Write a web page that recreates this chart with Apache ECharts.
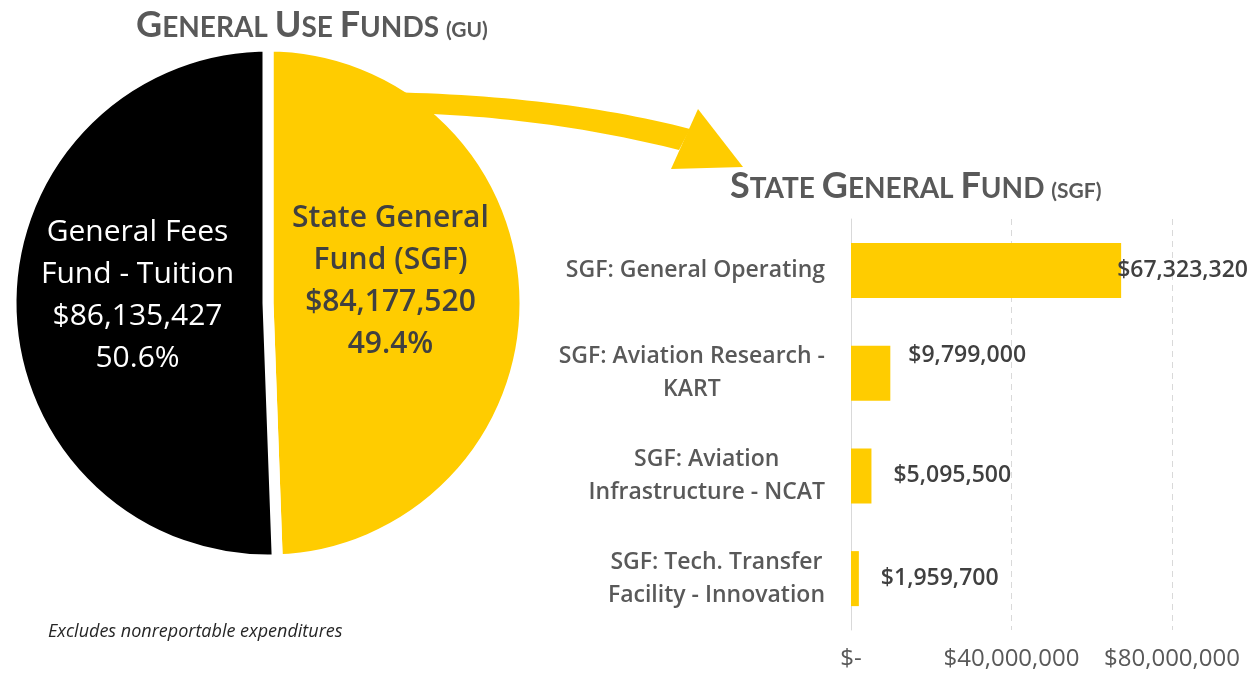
<!DOCTYPE html>
<html>
<head>
<meta charset="utf-8">
<script src="https://cdn.jsdelivr.net/npm/echarts@6/dist/echarts.min.js"></script>
<style>
  html, body { margin: 0; padding: 0; background: #fff; }
  #chart { width: 1258px; height: 677px; }
</style>
</head>
<body>
<div id="chart"></div>
<script>
// general use funds split
const guNames = ['State General\nFund (SGF)', 'General Fees\nFund - Tuition'];
const guValues = [84177520, 86135427];

// state general fund breakdown
const sgfCategories = [
  'SGF: General Operating',
  'SGF: Aviation Research -\nKART',
  'SGF: Aviation\nInfrastructure - NCAT',
  'SGF: Tech. Transfer\nFacility - Innovation'
];
const sgfValues = [67323320, 9799000, 5095500, 1959700];

const xTicks = [0, 40000000, 80000000];

const titleFont = 'Lato, "Open Sans", sans-serif';
const font = '"Open Sans", sans-serif';
const yellow = '#FFCC00';
const money = v => '$' + v.toLocaleString('en-US');

const chart = echarts.init(document.getElementById('chart'), null, { renderer: 'canvas' });

// small caps headers, done with rich text
const capsRich = (big, small, tiny) => ({
  a: { fontSize: big, fontWeight: 'bold', color: '#595959', fontFamily: titleFont, lineHeight: 44, verticalAlign: 'bottom' },
  b: { fontSize: small, fontWeight: 'bold', color: '#595959', fontFamily: titleFont, lineHeight: 44, verticalAlign: 'bottom', padding: [0, 0, 1, 0] },
  c: { fontSize: tiny, fontWeight: 'bold', color: '#595959', fontFamily: titleFont, lineHeight: 44, verticalAlign: 'bottom', padding: [0, 0, 2, 0] }
});

// quadratic curve sampled into points, for the arrow body
function quad(p0, c, p1, n) {
  const pts = [];
  for (let i = 0; i <= n; i++) {
    const t = i / n, u = 1 - t;
    pts.push([u * u * p0[0] + 2 * u * t * c[0] + t * t * p1[0], u * u * p0[1] + 2 * u * t * c[1] + t * t * p1[1]]);
  }
  return pts;
}
const arrowBody = [[380, 114]]
  .concat(quad([380, 92], [560, 95], [690, 129], 30))
  .concat(quad([679, 150], [560, 120], [433, 114], 30));

// label nudges so text sits where the original has it
const barLabelOffsets = [[-26, 0], [-4, -18], [0, 0], [0, 0]];

chart.setOption({
  animation: false,
  title: [
    {
      left: 131, top: -6,
      text: '{a|G}{b|ENERAL }{a|U}{b|SE }{a|F}{b|UNDS }{c|(GU)}',
      textStyle: { rich: capsRich(36, 28, 21) }
    },
    {
      left: 725, top: 155,
      text: '{a|S}{b|TATE }{a|G}{b|ENERAL }{a|F}{b|UND }{c|(SGF)}',
      textStyle: { rich: capsRich(36, 28, 21) }
    },
    {
      left: 43, top: 618,
      text: 'Excludes nonreportable expenditures',
      textStyle: { fontSize: 18, fontStyle: 'italic', fontWeight: 'normal', color: '#262626', fontFamily: font }
    }
  ],
  grid: { left: 851, top: 219, width: 321, height: 411 },
  xAxis: {
    type: 'value',
    min: xTicks[0],
    max: xTicks[xTicks.length - 1],
    interval: xTicks[1] - xTicks[0],
    axisLine: { show: false },
    axisTick: { show: false },
    splitLine: { lineStyle: { type: [6, 5], color: '#d9d9d9', width: 1 } },
    axisLabel: {
      margin: 17,
      fontSize: 24,
      color: '#595959',
      fontFamily: font,
      formatter: v => v === 0 ? '$-' : money(v)
    }
  },
  yAxis: {
    type: 'category',
    inverse: true,
    data: sgfCategories,
    axisLine: { show: true, lineStyle: { color: '#d9d9d9', width: 1 } },
    axisTick: { show: false },
    axisLabel: {
      margin: 26,
      align: 'right',
      formatter: v => v.split('\n').map(s => '{c|' + s + '}').join('\n'),
      rich: {
        c: { align: 'center', fontSize: 23, fontWeight: 600, color: '#595959', fontFamily: font, lineHeight: 33 }
      }
    }
  },
  graphic: [
    {
      type: 'polygon',
      z: 100,
      shape: { points: arrowBody },
      style: { fill: yellow }
    },
    {
      type: 'polygon',
      z: 100,
      shape: { points: [[698, 109], [743, 167], [671, 169]] },
      style: { fill: yellow }
    }
  ],
  series: [
    {
      type: 'pie',
      center: [268, 303],
      radius: 257,
      startAngle: 90,
      clockwise: true,
      silent: true,
      itemStyle: { borderColor: '#fff', borderWidth: 11 },
      label: {
        show: true,
        position: 'inside',
        fontFamily: font,
        fontSize: 30,
        lineHeight: 42,
        formatter: p => p.name + '\n' + money(p.value) + '\n' + p.percent.toFixed(1) + '%'
      },
      labelLine: { show: false },
      labelLayout: p => p.dataIndex === 0 ? { dx: -9, dy: -19 } : { dx: 1, dy: -10 },
      data: guNames.map((n, i) => ({
        name: n,
        value: guValues[i],
        itemStyle: { color: i === 0 ? yellow : '#000000' },
        label: i === 0 ? { color: '#404040', fontWeight: 600 } : { color: '#ffffff', fontWeight: 'normal' }
      }))
    },
    {
      type: 'bar',
      barWidth: 55,
      data: sgfValues.map((v, i) => ({ value: v, label: { offset: barLabelOffsets[i] } })),
      itemStyle: { color: yellow },
      label: {
        show: true,
        position: 'right',
        distance: 22,
        fontSize: 23,
        fontWeight: 600,
        color: '#404040',
        fontFamily: font,
        formatter: p => money(p.value)
      }
    }
  ]
});
</script>
</body>
</html>
